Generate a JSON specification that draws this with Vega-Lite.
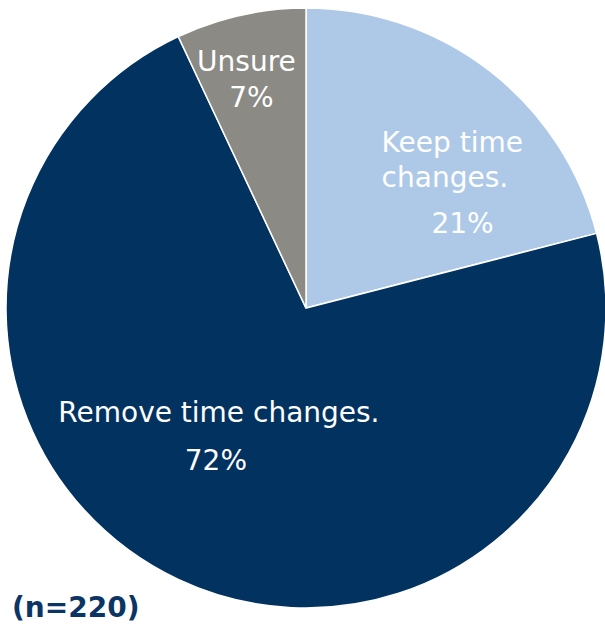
{
  "$schema": "https://vega.github.io/schema/vega-lite/v6.json",
  "width": 598,
  "height": 616,
  "autosize": "none",
  "padding": {"left": 7, "top": 0, "right": 0, "bottom": 12},
  "background": "white",
  "config": {"view": {"stroke": null}},
  "title": {"text": "(n=220)", "orient": "bottom", "anchor": "start", "frame": "group", "offset": -21, "dx": 5, "fontSize": 28, "fontWeight": "bold", "font": "DejaVu Sans", "color": "#0b3565"},
  "data": {"values": [
    {"answer": "Keep time changes.", "name": "Keep time\nchanges.", "pct": "21%", "value": 21, "order": 1},
    {"answer": "Remove time changes.", "name": "Remove time changes.", "pct": "72%", "value": 72, "order": 2},
    {"answer": "Unsure", "name": "Unsure", "pct": "7%", "value": 7, "order": 3}
  ]},
  "encoding": {
    "theta": {"field": "value", "type": "quantitative", "stack": true},
    "order": {"field": "order", "type": "quantitative"}
  },
  "layer": [
    {
      "mark": {"type": "arc", "outerRadius": 300, "stroke": "white", "strokeWidth": 1.5},
      "encoding": {
        "color": {"field": "answer", "type": "nominal", "legend": null,
          "scale": {"domain": ["Keep time changes.", "Remove time changes.", "Unsure"], "range": ["#aec9e8", "#02325f", "#8b8a85"]}}
      }
    },
    {
      "mark": {"type": "text", "radius": 200, "dx": -47, "dy": 2, "align": "left", "baseline": "alphabetic", "lineBreak": "\n", "lineHeight": 35, "font": "DejaVu Sans", "fontSize": 28, "color": "white"},
      "encoding": {"text": {"condition": {"test": "datum.answer === 'Keep time changes.'", "field": "name"}, "value": ""}}
    },
    {
      "mark": {"type": "text", "radius": 200, "dx": 34, "dy": 83, "align": "center", "baseline": "alphabetic", "font": "DejaVu Sans", "fontSize": 28, "color": "white"},
      "encoding": {"text": {"condition": {"test": "datum.answer === 'Keep time changes.'", "field": "pct"}, "value": ""}}
    },
    {
      "mark": {"type": "text", "radius": 120, "dx": -36, "dy": 5, "align": "center", "baseline": "alphabetic", "font": "DejaVu Sans", "fontSize": 28, "color": "white"},
      "encoding": {"text": {"condition": {"test": "datum.answer === 'Remove time changes.'", "field": "name"}, "value": ""}}
    },
    {
      "mark": {"type": "text", "radius": 120, "dx": -39, "dy": 53, "align": "center", "baseline": "alphabetic", "font": "DejaVu Sans", "fontSize": 28, "color": "white"},
      "encoding": {"text": {"condition": {"test": "datum.answer === 'Remove time changes.'", "field": "pct"}, "value": ""}}
    },
    {
      "mark": {"type": "text", "radius": 250, "dx": -5, "dy": 7, "align": "center", "baseline": "alphabetic", "font": "DejaVu Sans", "fontSize": 28, "color": "white"},
      "encoding": {"text": {"condition": {"test": "datum.answer === 'Unsure'", "field": "name"}, "value": ""}}
    },
    {
      "mark": {"type": "text", "radius": 250, "dx": 0, "dy": 43, "align": "center", "baseline": "alphabetic", "font": "DejaVu Sans", "fontSize": 28, "color": "white"},
      "encoding": {"text": {"condition": {"test": "datum.answer === 'Unsure'", "field": "pct"}, "value": ""}}
    }
  ]
}
